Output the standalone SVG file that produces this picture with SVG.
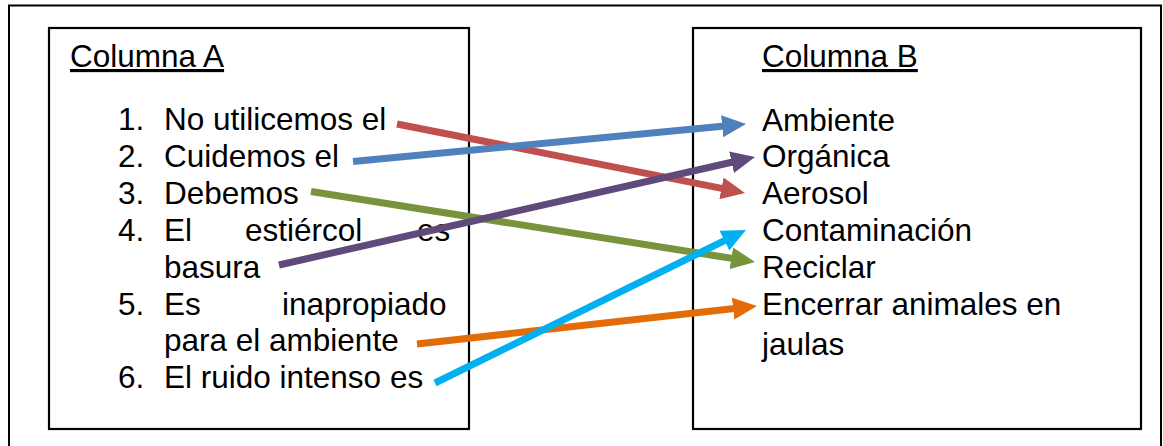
<svg xmlns="http://www.w3.org/2000/svg" width="1163" height="446" viewBox="0 0 1163 446">
<style>
.t{font-family:"Liberation Sans",Arial,sans-serif;font-size:31.5px;fill:#000}
.box{fill:#fff;stroke:#000;stroke-width:2.2}
.c{fill:none;stroke-width:7;stroke-linecap:butt}
</style>
<defs>
<marker id="mR" markerUnits="userSpaceOnUse" viewBox="0 0 24 22" markerWidth="24" markerHeight="22" refX="8" refY="11" orient="auto"><path d="M0,0 L24,11 L0,22 z" fill="#C0504D"/></marker>
<marker id="mB" markerUnits="userSpaceOnUse" viewBox="0 0 24 22" markerWidth="24" markerHeight="22" refX="8" refY="11" orient="auto"><path d="M0,0 L24,11 L0,22 z" fill="#4F81BD"/></marker>
<marker id="mG" markerUnits="userSpaceOnUse" viewBox="0 0 24 22" markerWidth="24" markerHeight="22" refX="8" refY="11" orient="auto"><path d="M0,0 L24,11 L0,22 z" fill="#77933C"/></marker>
<marker id="mP" markerUnits="userSpaceOnUse" viewBox="0 0 24 22" markerWidth="24" markerHeight="22" refX="8" refY="11" orient="auto"><path d="M0,0 L24,11 L0,22 z" fill="#604A7B"/></marker>
<marker id="mO" markerUnits="userSpaceOnUse" viewBox="0 0 24 22" markerWidth="24" markerHeight="22" refX="8" refY="11" orient="auto"><path d="M0,0 L24,11 L0,22 z" fill="#E36C09"/></marker>
<marker id="mC" markerUnits="userSpaceOnUse" viewBox="0 0 24 22" markerWidth="24" markerHeight="22" refX="8" refY="11" orient="auto"><path d="M0,0 L24,11 L0,22 z" fill="#00B0F0"/></marker>
</defs>
<rect width="1163" height="446" fill="#fff"/>
<g id="frame"><path d="M9,460 L9,5.5 L1161,5.5 L1161,460" fill="none" stroke="#000" stroke-width="2"/></g>
<g id="colA">
<rect class="box" x="49" y="28" width="420" height="401"/>
<text class="t" x="70" y="67" text-decoration="underline">Columna A</text>
<text class="t" x="118" y="130">1.</text><text class="t" x="164" y="130">No utilicemos el</text>
<text class="t" x="118" y="167">2.</text><text class="t" x="164" y="167">Cuidemos el</text>
<text class="t" x="118" y="204">3.</text><text class="t" x="164" y="204">Debemos</text>
<text class="t" x="118" y="241">4.</text><text class="t" y="241"><tspan x="164">El</tspan><tspan x="245">estiércol</tspan><tspan x="417">es</tspan></text>
<text class="t" x="164" y="278">basura</text>
<text class="t" x="118" y="315">5.</text><text class="t" y="315"><tspan x="164">Es</tspan><tspan x="282">inapropiado</tspan></text>
<text class="t" x="164" y="351">para el ambiente</text>
<text class="t" x="118" y="388">6.</text><text class="t" x="164" y="388">El ruido intenso es</text>
</g>
<g id="colB">
<rect class="box" x="693" y="28" width="448" height="401"/>
<text class="t" x="762" y="67" text-decoration="underline">Columna B</text>
<text class="t" x="762" y="131">Ambiente</text>
<text class="t" x="762" y="167">Orgánica</text>
<text class="t" x="762" y="204">Aerosol</text>
<text class="t" x="762" y="241">Contaminación</text>
<text class="t" x="762" y="278">Reciclar</text>
<text class="t" x="762" y="315">Encerrar animales en</text>
<text class="t" x="762" y="355">jaulas</text>
</g>
<g id="connectors">
<line class="c" stroke="#C0504D" x1="397" y1="124" x2="729.3" y2="189.9" marker-end="url(#mR)"/>
<line class="c" stroke="#77933C" x1="311" y1="191.5" x2="739.2" y2="259.5" marker-end="url(#mG)"/>
<line class="c" stroke="#4F81BD" x1="353" y1="161.5" x2="730.1" y2="125.5" marker-end="url(#mB)"/>
<line class="c" stroke="#E36C09" x1="417" y1="344" x2="741.1" y2="307.8" marker-end="url(#mO)"/>
<line class="c" stroke="#604A7B" x1="279" y1="265" x2="739.4" y2="160.5" marker-end="url(#mP)"/>
<line class="c" stroke="#00B0F0" x1="435" y1="383" x2="731.6" y2="237.1" marker-end="url(#mC)"/>
</g>
</svg>
